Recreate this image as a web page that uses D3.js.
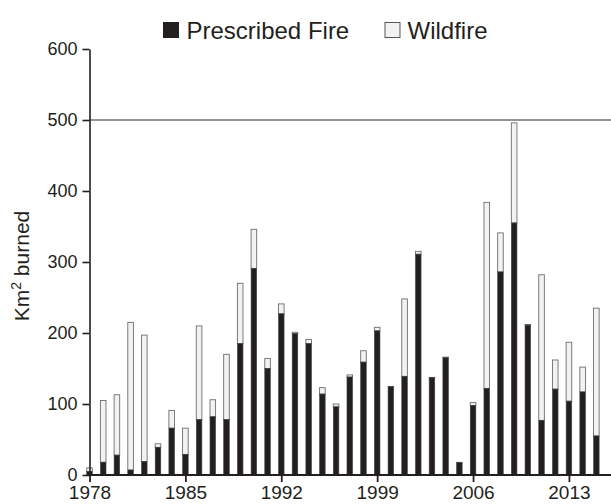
<!DOCTYPE html>
<html>
<head>
<meta charset="utf-8">
<script src="https://cdn.jsdelivr.net/npm/d3@7"></script>
<style>
  body { margin: 0; background: #fff; }
  svg { display: block; font-family: "Liberation Sans", Arial, sans-serif; }
</style>
</head>
<body>
<div id="container"></div>
<script>
// km2 burned per year
const years = d3.range(1978, 2016);
const prescribed = [5, 18, 28, 7, 19, 39, 66, 29, 78, 82, 78, 185, 291, 150, 227, 199, 185, 114, 96, 138,
                    159, 203, 125, 139, 311, 137, 165, 18, 98, 122, 286, 355, 211, 77, 121, 104, 117, 55];
const wildfire   = [5, 87, 85, 208, 178, 5, 25, 37, 132, 24, 92, 85, 55, 14, 14, 2, 6, 9, 4, 3,
                    16, 5, 0, 109, 4, 0.5, 1, 0, 4, 262, 55, 141, 1, 205, 41, 83, 35, 180];
const yTicks = [0, 100, 200, 300, 400, 500, 600];
const xTicks = [1978, 1985, 1992, 1999, 2006, 2013];

const width = 611;
const height = 504;
const ink = '#231f20';

const rows = years.map((yr, i) => ({year: yr, prescribed: prescribed[i], wildfire: wildfire[i]}));

const svg = d3.select('#container')
    .append('svg')
    .attr('width', width)
    .attr('height', height);

const x = d3.scaleLinear()
    .domain([1978, 2016.07])
    .range([89.5, 611]);

const y = d3.scaleLinear()
    .domain([0, 600])
    .range([475, 49]);

const barW = 5.6;

// reference line at 500
svg.append('line')
    .attr('x1', x(1978)).attr('x2', width)
    .attr('y1', y(500)).attr('y2', y(500))
    .attr('stroke', '#707070')
    .attr('stroke-width', 1.6);

const bars = svg.append('g');

bars.selectAll('rect.wild')
    .data(rows.filter(d => d.wildfire > 0))
    .join('rect')
      .attr('class', 'wild')
      .attr('x', d => x(d.year) - barW / 2)
      .attr('y', d => y(d.prescribed + d.wildfire))
      .attr('width', barW)
      .attr('height', d => y(d.prescribed) - y(d.prescribed + d.wildfire))
      .attr('fill', '#f2f2f2')
      .attr('stroke', '#6e6e6e')
      .attr('stroke-width', 0.9);

bars.selectAll('rect.presc')
    .data(rows)
    .join('rect')
      .attr('class', 'presc')
      .attr('x', d => x(d.year) - barW / 2)
      .attr('y', d => y(d.prescribed))
      .attr('width', barW)
      .attr('height', d => y(0) - y(d.prescribed))
      .attr('fill', ink)
      .attr('stroke', '#444')
      .attr('stroke-width', 0.6);

function yAxis(g) {
  g.attr('transform', `translate(${x(1978)},0)`)
    .call(d3.axisLeft(y).tickValues(yTicks).tickSize(7).tickSizeOuter(0).tickPadding(5))
    .attr('font-size', '18px')
    .attr('font-family', null);
  g.selectAll('path, line').attr('stroke', ink).attr('stroke-width', 1.6);
  g.selectAll('text').attr('fill', ink);
}

function xAxis(g) {
  g.attr('transform', `translate(0,${y(0)})`)
    .call(d3.axisBottom(x).tickValues(xTicks).tickFormat(d3.format('d')).tickSize(7).tickSizeOuter(0).tickPadding(3.5))
    .attr('font-size', '19px')
    .attr('font-family', null);
  g.select('.domain').attr('d', `M${x(1978)},0H${width}`);
  g.selectAll('path, line').attr('stroke', ink).attr('stroke-width', 1.8);
  g.selectAll('text').attr('fill', ink);
}

svg.append('g').call(xAxis);
svg.append('g').call(yAxis);

// y label
const ylab = svg.append('text')
    .attr('transform', 'translate(29,266) rotate(-90)')
    .attr('text-anchor', 'middle')
    .attr('font-size', '21px')
    .attr('fill', ink);
ylab.append('tspan').text('Km');
ylab.append('tspan').text('2').attr('font-size', '14px').attr('dy', '-8');
ylab.append('tspan').text(' burned').attr('dy', '8');

// legend
const legend = [
  {name: 'Prescribed Fire', fill: ink, stroke: ink, sx: 163.5, tx: 186.5},
  {name: 'Wildfire', fill: '#f2f2f2', stroke: '#555', sx: 385, tx: 407.5}
];

const lg = svg.append('g');
lg.selectAll('rect')
    .data(legend)
    .join('rect')
      .attr('x', d => d.sx)
      .attr('y', 22.5)
      .attr('width', 15)
      .attr('height', 15)
      .attr('fill', d => d.fill)
      .attr('stroke', d => d.stroke)
      .attr('stroke-width', 1);

lg.selectAll('text')
    .data(legend)
    .join('text')
      .attr('x', d => d.tx)
      .attr('y', 38.5)
      .attr('font-size', '24px')
      .attr('fill', ink)
      .text(d => d.name);
</script>
</body>
</html>
